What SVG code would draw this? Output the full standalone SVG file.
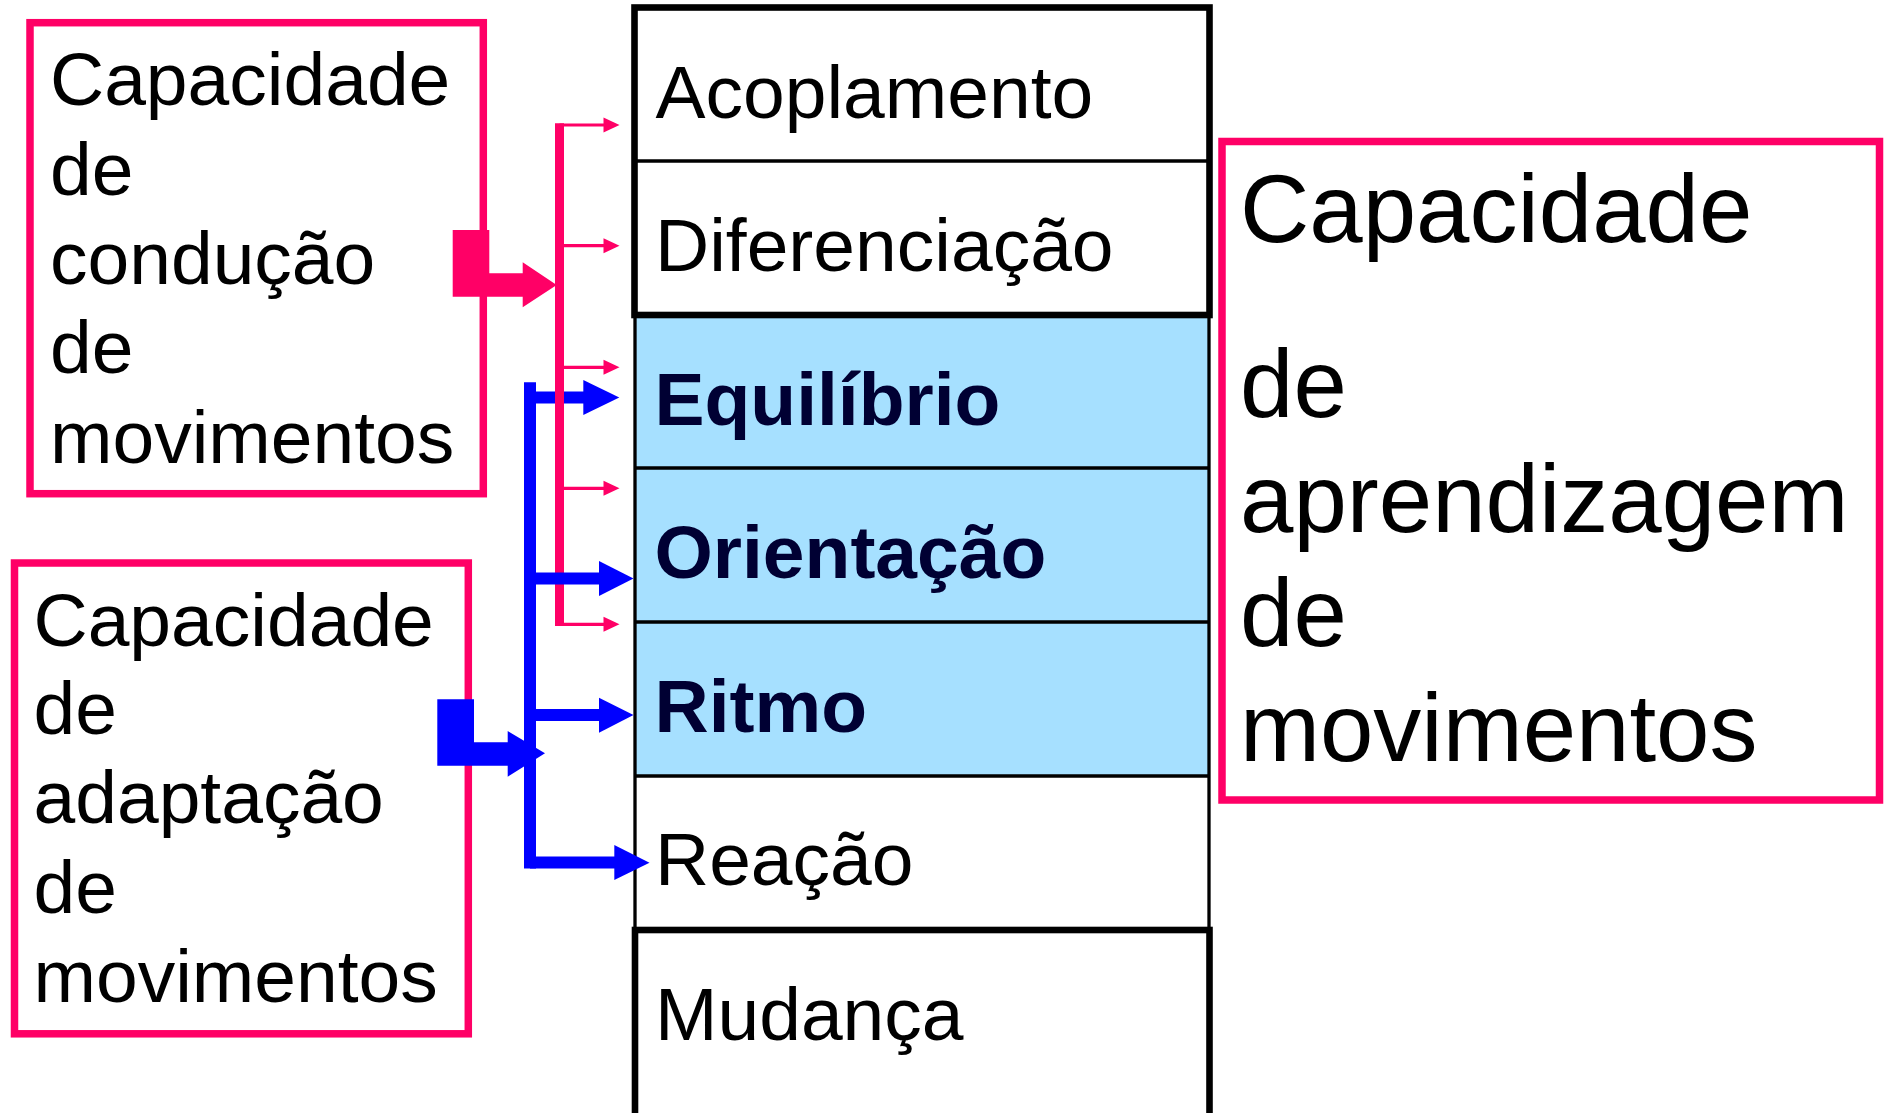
<svg xmlns="http://www.w3.org/2000/svg" width="1885" height="1113" viewBox="0 0 1885 1113">
<style>
text{font-family:"Liberation Sans",Arial,sans-serif;fill:#000}
.t{font-size:75px}
.tb{font-size:75px;font-weight:bold;fill:#000033}
.big{font-size:96px}
.pk{fill:none;stroke:#FF0066;stroke-width:7.5}
.thin{stroke:#000;stroke-width:3.3}
.thick{fill:none;stroke:#000;stroke-width:6.6}
.pl{stroke:#FF0066;fill:none}
.bl{stroke:#0000FF;fill:none;stroke-width:12}
.pa{fill:#FF0066}
.ba{fill:#0000FF}
</style>
<rect width="1885" height="1113" fill="#fff"/>

<g id="table">
  <rect x="635" y="314" width="574" height="462" fill="#A6E0FF"/>
  <rect x="635" y="314" width="574" height="616" fill="none" class="thin"/>
  <line x1="635" y1="468" x2="1209" y2="468" class="thin"/>
  <line x1="635" y1="622" x2="1209" y2="622" class="thin"/>
  <line x1="635" y1="776" x2="1209" y2="776" class="thin"/>
  <rect x="634.5" y="7.5" width="575" height="307.5" fill="#fff" class="thick"/>
  <line x1="634.5" y1="161" x2="1209.5" y2="161" class="thin"/>
  <rect x="635" y="930" width="574.5" height="200" fill="#fff" class="thick"/>
</g>

<g id="cell-acoplamento"><text x="655.5" y="118" class="t">Acoplamento</text></g>
<g id="cell-diferenciacao"><text x="655" y="271" class="t">Diferenciação</text></g>
<g id="cell-equilibrio"><text x="654.5" y="425" class="tb">Equilíbrio</text></g>
<g id="cell-orientacao"><text x="654.5" y="578" class="tb">Orientação</text></g>
<g id="cell-ritmo"><text x="654.5" y="732" class="tb">Ritmo</text></g>
<g id="cell-reacao"><text x="655" y="885" class="t">Reação</text></g>
<g id="cell-mudanca"><text x="655" y="1040" class="t">Mudança</text></g>

<g id="box-conducao">
  <rect x="30" y="22.7" width="453.3" height="471" class="pk"/>
  <text x="50" y="105" class="t">Capacidade</text>
  <text x="50" y="195" class="t">de</text>
  <text x="50" y="284" class="t">condução</text>
  <text x="50" y="373" class="t">de</text>
  <text x="50" y="462.5" class="t">movimentos</text>
</g>

<g id="box-adaptacao">
  <rect x="14.5" y="563" width="453.8" height="470.8" class="pk"/>
  <text x="33.5" y="646" class="t">Capacidade</text>
  <text x="33.5" y="734" class="t">de</text>
  <text x="33.5" y="823" class="t">adaptação</text>
  <text x="33.5" y="913" class="t">de</text>
  <text x="33.5" y="1002" class="t">movimentos</text>
</g>

<g id="box-aprendizagem">
  <rect x="1222" y="141.5" width="657.5" height="658.5" class="pk"/>
  <text x="1240" y="242" class="big">Capacidade</text>
  <text x="1240" y="417" class="big">de</text>
  <text x="1240" y="532" class="big">aprendizagem</text>
  <text x="1240" y="646" class="big">de</text>
  <text x="1240" y="761" class="big">movimentos</text>
</g>

<g id="connectors">
  <line x1="530" y1="382.3" x2="530" y2="868.5" class="bl"/>
  <line x1="530" y1="397.5" x2="584" y2="397.5" class="bl"/>
  <polygon points="583.3,380 619.3,397.5 583.3,415" class="ba"/>
  <line x1="559.5" y1="123.3" x2="559.5" y2="626" class="pl" stroke-width="9"/>
  <g class="pl" stroke-width="3.2">
    <line x1="559.5" y1="125" x2="605" y2="125"/>
    <line x1="559.5" y1="245.7" x2="605" y2="245.7"/>
    <line x1="559.5" y1="367.3" x2="605" y2="367.3"/>
    <line x1="559.5" y1="488.3" x2="605" y2="488.3"/>
    <line x1="559.5" y1="624.3" x2="605" y2="624.3"/>
  </g>
  <polygon points="603.5,117.5 619.5,125 603.5,132.5" class="pa"/>
  <polygon points="603.5,238.2 619.5,245.7 603.5,253.2" class="pa"/>
  <polygon points="603.5,359.8 619.5,367.3 603.5,374.8" class="pa"/>
  <polygon points="603.5,480.8 619.5,488.3 603.5,495.8" class="pa"/>
  <polygon points="603.5,616.8 619.5,624.3 603.5,631.8" class="pa"/>
  <polygon points="452.7,230 489.3,230 489.3,273.3 522.7,273.3 522.7,262.3 556.7,285 522.7,307.3 522.7,296.7 452.7,296.7" class="pa"/>
  <line x1="530" y1="578.5" x2="600" y2="578.5" class="bl"/>
  <polygon points="599,561 633.5,578.5 599,596" class="ba"/>
  <line x1="530" y1="715" x2="600" y2="715" class="bl"/>
  <polygon points="599,697.7 633.5,715 599,732.7" class="ba"/>
  <line x1="530" y1="862.5" x2="615" y2="862.5" class="bl"/>
  <polygon points="614.3,845 649.5,862.7 614.3,880" class="ba"/>
  <polygon points="437.3,699.3 474,699.3 474,742.3 507.7,742.3 507.7,731 545,753.3 507.7,776.7 507.7,765.7 437.3,765.7" class="ba"/>
</g>
</svg>
